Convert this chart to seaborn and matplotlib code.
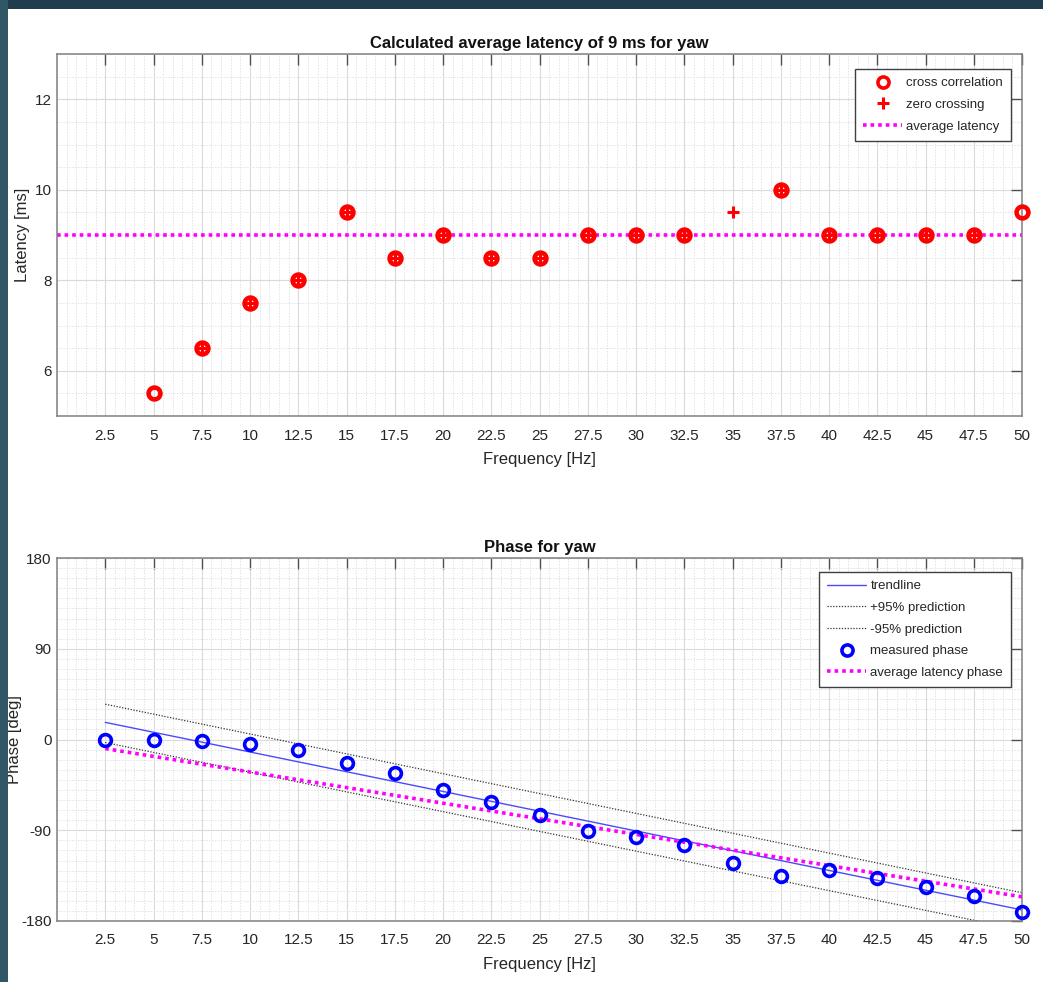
import numpy as np
import pandas as pd
import matplotlib
matplotlib.use("Agg")
import matplotlib.pyplot as plt
from matplotlib.lines import Line2D
from matplotlib.patches import Rectangle
from matplotlib.ticker import MultipleLocator
import seaborn as sns

# ---------------- data ----------------
freq = [2.5, 5, 7.5, 10, 12.5, 15, 17.5, 20, 22.5, 25,
        27.5, 30, 32.5, 35, 37.5, 40, 42.5, 45, 47.5, 50]
xcorr_latency = [np.nan, 5.5, 6.5, 7.5, 8, 9.5, 8.5, 9, 8.5, 8.5,
                 9, 9, 9, np.nan, 10, 9, 9, 9, 9, 9.5]
zero_latency = [np.nan, np.nan, 6.5, 7.5, 8, 9.5, 8.5, 9, 8.5, 8.5,
                9, 9, 9, 9.5, 10, 9, 9, 9, 9, np.nan]
average_latency = 9
avg_line_freq = [0, 50]

measured_phase = [0, 0, -1, -4, -10, -23, -33, -50, -62, -75,
                  -91, -97, -105, -122, -135, -129, -137, -146, -155, -171]
line_freq = [2.5, 50]
trend_phase = [17, -169]
upper_pred = [35, -152]
lower_pred = [-3, -189]
avg_latency_phase = [-9, -156]

x_ticks = freq
x_tick_labels = ["2.5", "5", "7.5", "10", "12.5", "15", "17.5", "20", "22.5", "25",
                 "27.5", "30", "32.5", "35", "37.5", "40", "42.5", "45", "47.5", "50"]

# ---------------- style ----------------
sns.set_style("white")
plt.rcParams["font.family"] = ["Liberation Sans", "DejaVu Sans"]
plt.rcParams["axes.unicode_minus"] = False
fs_tick, fs_lab, fs_title, fs_leg = 11, 12, 12, 9.5

W, H = 1043, 982
fig = plt.figure(figsize=(W / 100, H / 100), dpi=100)
fig.patch.set_facecolor("white")

def axes_rect(l, t, r, b):
    return [l / W, 1 - b / H, (r - l) / W, (b - t) / H]

ax1 = fig.add_axes(axes_rect(57, 54, 1022, 416))
ax2 = fig.add_axes(axes_rect(57, 558, 1022, 921))

def style_axes(ax, ylim, ymajor, yminor):
    ax.set_xlim(0, 50)
    ax.set_ylim(*ylim)
    ax.set_xticks(x_ticks)
    ax.set_xticklabels(x_tick_labels)
    ax.yaxis.set_major_locator(MultipleLocator(ymajor))
    ax.xaxis.set_minor_locator(MultipleLocator(0.5))
    ax.yaxis.set_minor_locator(MultipleLocator(yminor))
    ax.grid(True, which="major", color="#dadada", linewidth=0.8, linestyle="-")
    ax.grid(True, which="minor", color="#e2e2e2", linewidth=0.7, linestyle=(0, (1.5, 1.5)))
    ax.set_axisbelow(True)
    ax.tick_params(which="major", direction="in", length=8, width=1.0, color="#505050",
                   top=True, right=True, labelsize=fs_tick, labelcolor="#262626")
    ax.tick_params(axis="x", pad=9)
    ax.tick_params(axis="y", pad=4)
    ax.tick_params(which="minor", length=0)
    for s in ax.spines.values():
        s.set_color("#808080")
        s.set_linewidth(1.1)

leg_kw = dict(loc="upper right", borderaxespad=0, fontsize=fs_leg, frameon=True,
              fancybox=False, framealpha=1, edgecolor="#404040", handlelength=3.0,
              handletextpad=0.3, borderpad=0.6, labelspacing=0.72)

# ---------------- top chart ----------------
df1 = pd.DataFrame({"freq": freq, "xcorr": xcorr_latency, "zero": zero_latency})
avg_df = pd.DataFrame({"freq": avg_line_freq, "lat": [average_latency] * len(avg_line_freq)})

sns.lineplot(data=avg_df, x="freq", y="lat", ax=ax1, color="#ff00ff", linewidth=2.6,
             linestyle=(0, (1, 1.1)), errorbar=None, zorder=2)
sns.lineplot(data=df1, x="freq", y="xcorr", ax=ax1, marker="o", linestyle="none",
             markersize=8.5, markerfacecolor="none", markeredgecolor="#ff0000",
             markeredgewidth=3.3, color="#ff0000", errorbar=None, zorder=3, clip_on=False)
sns.lineplot(data=df1, x="freq", y="zero", ax=ax1, marker="+", linestyle="none",
             markersize=8, markeredgewidth=2.2, markeredgecolor="#ff0000",
             color="#ff0000", errorbar=None, zorder=4)

style_axes(ax1, (5, 13), 2, 0.5)
ax1.set_title("Calculated average latency of 9 ms for yaw", fontsize=fs_title,
              fontweight="bold", pad=4, color="#111111")
ax1.set_xlabel("Frequency [Hz]", fontsize=fs_lab, color="#262626", labelpad=7)
ax1.set_ylabel("Latency [ms]", fontsize=fs_lab, color="#262626")
ax1.yaxis.set_label_coords(-27 / 965, 0.5)

h1 = [
    Line2D([], [], marker="o", linestyle="none", markersize=8, markerfacecolor="none",
           markeredgecolor="#ff0000", markeredgewidth=2.6),
    Line2D([], [], marker="+", linestyle="none", markersize=8, markeredgewidth=2.2,
           markeredgecolor="#ff0000"),
    Line2D([], [], color="#ff00ff", linewidth=2.6, linestyle=(0, (1, 1.1))),
]
leg1 = ax1.legend(h1, ["cross correlation", "zero crossing", "average latency"],
                  bbox_to_anchor=(1 - 11 / 965, 1 - 15 / 362), **leg_kw)
leg1.get_frame().set_linewidth(1.0)

# ---------------- bottom chart ----------------
df2 = pd.DataFrame({"freq": freq, "phase": measured_phase})
lines_df = pd.DataFrame({"freq": line_freq, "trend": trend_phase, "upper": upper_pred,
                         "lower": lower_pred, "avg": avg_latency_phase})

sns.lineplot(data=lines_df, x="freq", y="trend", ax=ax2, color="#4a4aff", linewidth=1.0,
             errorbar=None, zorder=2)
sns.lineplot(data=lines_df, x="freq", y="upper", ax=ax2, color="#333333", linewidth=0.9,
             linestyle=(0, (1, 1.3)), errorbar=None, zorder=2)
sns.lineplot(data=lines_df, x="freq", y="lower", ax=ax2, color="#333333", linewidth=0.9,
             linestyle=(0, (1, 1.3)), errorbar=None, zorder=2)
sns.lineplot(data=lines_df, x="freq", y="avg", ax=ax2, color="#ff00ff", linewidth=2.6,
             linestyle=(0, (1, 1.1)), errorbar=None, zorder=3)
sns.lineplot(data=df2, x="freq", y="phase", ax=ax2, marker="o", linestyle="none",
             markersize=8.5, markerfacecolor="none", markeredgecolor="#0000ff",
             markeredgewidth=2.6, color="#0000ff", errorbar=None, zorder=4, clip_on=False)

style_axes(ax2, (-180, 180), 90, 10)
ax2.set_title("Phase for yaw", fontsize=fs_title, fontweight="bold", pad=4, color="#111111")
ax2.set_xlabel("Frequency [Hz]", fontsize=fs_lab, color="#262626", labelpad=7)
ax2.set_ylabel("Phase [deg]", fontsize=fs_lab, color="#262626")
ax2.yaxis.set_label_coords(-35 / 965, 0.5)

h2 = [
    Line2D([], [], color="#4a4aff", linewidth=1.0),
    Line2D([], [], color="#333333", linewidth=0.9, linestyle=(0, (1, 1.3))),
    Line2D([], [], color="#333333", linewidth=0.9, linestyle=(0, (1, 1.3))),
    Line2D([], [], marker="o", linestyle="none", markersize=8, markerfacecolor="none",
           markeredgecolor="#0000ff", markeredgewidth=2.6),
    Line2D([], [], color="#ff00ff", linewidth=2.6, linestyle=(0, (1, 1.1))),
]
leg2 = ax2.legend(h2, ["trendline", "+95% prediction", "-95% prediction",
                       "measured phase", "average latency phase"],
                  bbox_to_anchor=(1 - 11 / 965, 1 - 14 / 363), **leg_kw)
leg2.get_frame().set_linewidth(1.0)

# ---------------- slide border ----------------
fig.patches.append(Rectangle((0, 1 - 9 / H), 1, 9 / H, transform=fig.transFigure,
                             facecolor="#1f3d4c", edgecolor="none", zorder=10))
fig.patches.append(Rectangle((0, 0), 8 / W, 1, transform=fig.transFigure,
                             facecolor="#2f5765", edgecolor="none", zorder=10))

fig.savefig("out.png", dpi=100)
